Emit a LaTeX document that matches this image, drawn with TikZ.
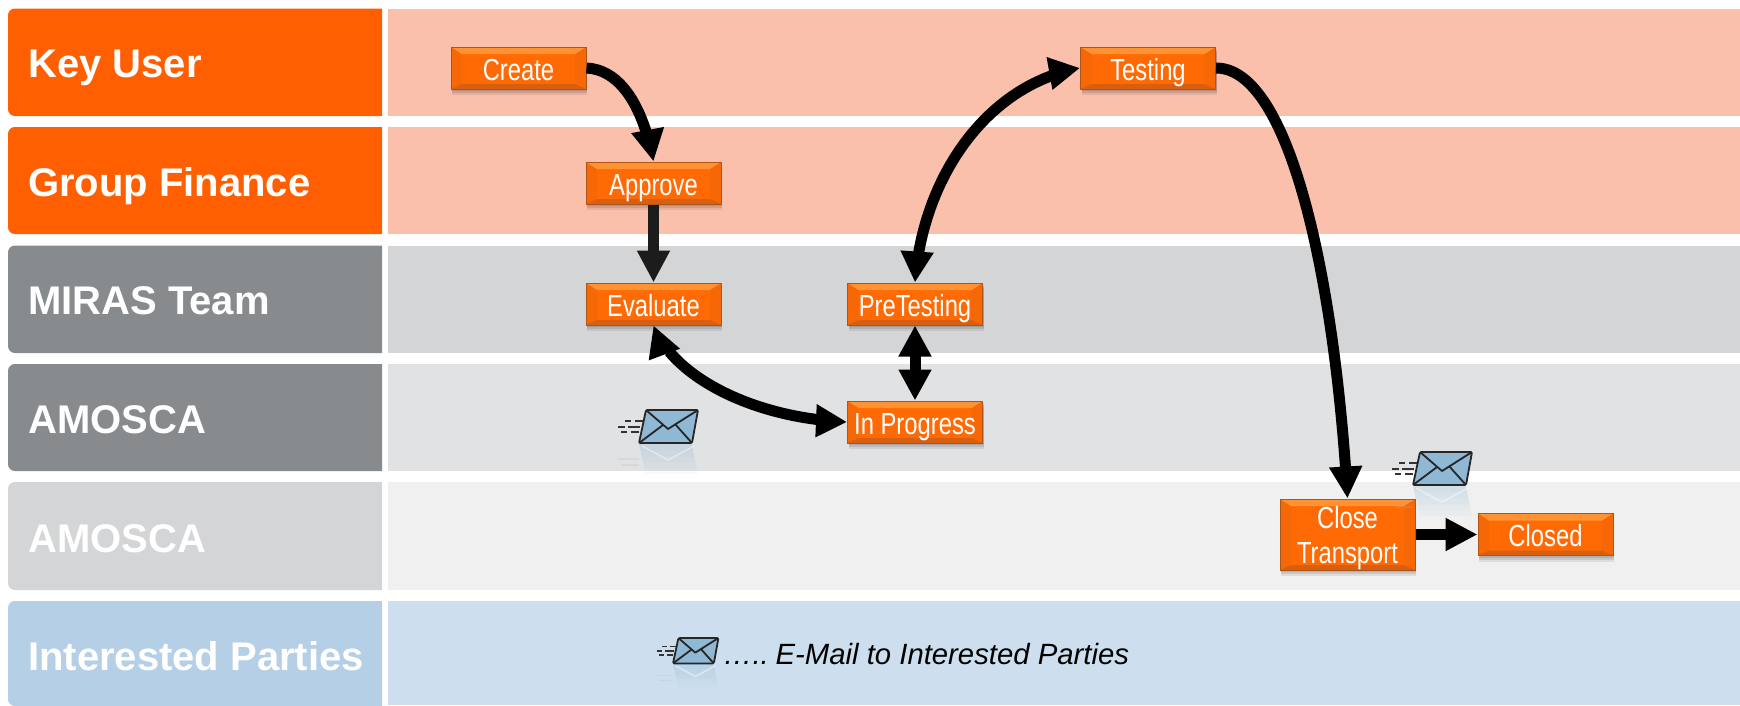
\documentclass[tikz,border=0pt]{standalone}
\usepackage{fontspec}
\setmainfont{Liberation Sans}
\newfontfamily\boxfont[FakeStretch=0.78]{Liberation Sans}
\usetikzlibrary{arrows.meta,bending,shadows,calc}
\definecolor{cOrange}{HTML}{FF5F00}
\definecolor{cSalmon}{HTML}{FAC0AC}
\definecolor{cGrey}{HTML}{888B8D}
\definecolor{cGreyA}{HTML}{D4D5D7}
\definecolor{cGreyB}{HTML}{E1E2E4}
\definecolor{cGreyC}{HTML}{F0F0F0}
\definecolor{cBlueA}{HTML}{B5CFE6}
\definecolor{cBlueB}{HTML}{CDDFEE}
\definecolor{cEnv}{HTML}{8FB8D4}
\definecolor{cBoxM}{HTML}{FF6A05}
\definecolor{cBoxT}{HTML}{FF9233}
\definecolor{cBoxB}{HTML}{D95F10}
\definecolor{cBoxL}{HTML}{F66806}
\definecolor{cBoxS}{HTML}{AE5518}
\newcommand{\rolebg}[3]{%
  \fill[#1] (382,#2) -- (15,#2) .. controls (11,#2) and (8,{#2+3}) .. (8,{#2+7})
    -- (8,{#3-7}) .. controls (8,{#3-3}) and (11,#3) .. (15,#3) -- (382,#3) -- cycle;}
\tikzset{
  x=1pt,y=-1pt,
  lane/.style={fill=#1,draw=none},
  rolelabel/.style={anchor=base west,text=white,font=\fontsize{40}{40}\selectfont\bfseries,inner sep=0pt},
  stepbase/.style={rectangle,minimum width=135pt,minimum height=42pt,inner sep=0pt,align=center,
    text=white,font=\boxfont\fontsize{30.5}{35}\selectfont,fill=cBoxM,draw=cBoxS,line width=1pt,
    general shadow={fill=black,opacity=.10,shadow xshift=1pt,shadow yshift=-2pt},
    general shadow={fill=black,opacity=.10,shadow xshift=1pt,shadow yshift=-4pt},
    general shadow={fill=black,opacity=.08,shadow xshift=1pt,shadow yshift=-6pt},
    path picture={
      \coordinate (nw) at (path picture bounding box.north west);
      \coordinate (ne) at (path picture bounding box.north east);
      \coordinate (sw) at (path picture bounding box.south west);
      \coordinate (se) at (path picture bounding box.south east);
      \fill[cBoxL] (nw) -- ($(nw)+(11pt,-7pt)$) -- ($(sw)+(11pt,5pt)$) -- (sw) -- cycle;
      \fill[cBoxL] (ne) -- ($(ne)+(-11pt,-7pt)$) -- ($(se)+(-11pt,5pt)$) -- (se) -- cycle;
      \fill[cBoxT] (nw) -- (ne) -- ($(ne)+(-11pt,-7pt)$) -- ($(nw)+(11pt,-7pt)$) -- cycle;
      \fill[cBoxB] (sw) -- (se) -- ($(se)+(-11pt,5pt)$) -- ($(sw)+(11pt,5pt)$) -- cycle;
    }},
  stepbox/.style={stepbase,text height=24pt,text depth=0pt},
  flow/.style={line width=11pt,-{Triangle[length=32pt,width=31pt,flex=0]},#1},
  flow/.default=black,
  bothflow/.style={line width=11pt,{Triangle[length=31pt,width=31pt,flex=0]}-{Triangle[length=31pt,width=31pt,flex=0]},black},
  envline/.style={line width=1.8pt,draw=black!85,line join=round},
  pics/envelope/.style={code={
    \foreach \t/\o in {0/.30,6/.24,12/.18,18/.12,24/.07}{
      \fill[cEnv,opacity=\o] ({\t*7/32},34+\t) -- ({53+\t*6/32},34+\t) -- ({53+(\t+6)*6/32},40+\t) -- ({(\t+6)*7/32},40+\t) -- cycle;
    }
    \draw[white,opacity=.45,line width=1.4pt] (3,36) -- (29,50) -- (55,36);
    \draw[black!30,opacity=.2,line width=1.4pt] (-21,49) -- (0,49) (-18,55) -- (0,55);
    \draw[line width=1.5pt,black!80]
      (-14,11) -- (-8,11) (-4,11) -- (4,11)
      (-21,17) -- (-14,17) (-11,17) -- (1,17)
      (-18,22) -- (-12,22) (-8,22) -- (0,22);
    \filldraw[fill=cEnv,envline,rounded corners=1.5pt] (7,0) -- (59,0) -- (53,33) -- (0,33) -- cycle;
    \draw[envline] (7,0) -- (29,19) -- (59,0);
    \draw[envline] (0,33) -- (24,15);
    \draw[envline] (53,33) -- (36,14);
  }}
}
\begin{document}
\begin{tikzpicture}
\useasboundingbox (0,0) rectangle (1740,705);
% lanes
\fill[lane=cSalmon] (387.5,9) rectangle (1740,116);
\fill[lane=cSalmon] (387.5,127) rectangle (1740,234);
\fill[lane=cGreyA] (387.5,245.5) rectangle (1740,353);
\fill[lane=cGreyB] (387.5,364) rectangle (1740,471);
\fill[lane=cGreyC] (387.5,482) rectangle (1740,590);
\fill[lane=cBlueB] (387.5,601) rectangle (1740,705);
% role column
\rolebg{cOrange}{8.5}{116}
\rolebg{cOrange}{127}{234}
\rolebg{cGrey}{245.5}{353}
\rolebg{cGrey}{364}{471}
\rolebg{cGreyA}{482}{590}
\rolebg{cBlueA}{601}{706}
\node[rolelabel] (lKey) at (28,77) {Key User};
\node[rolelabel] (lGroup) at (28,196) {Group Finance};
\node[rolelabel] (lMiras) at (28,314) {MIRAS Team};
\node[rolelabel] (lAmoA) at (28,433) {AMOSCA};
\node[rolelabel] (lAmoB) at (28,552) {AMOSCA};
\node[rolelabel] (lInt) at (28,670) {Interested Parties};
% steps
\node[stepbox] (create) at (518.5,68) {Create};
\node[stepbox] (approve) at (653.5,183) {Approve};
\node[stepbox] (evaluate) at (653.5,304) {Evaluate};
\node[stepbox] (pretest) at (915,304) {PreTesting};
\node[stepbox] (progress) at (915,422) {In Progress};
\node[stepbox] (testing) at (1148,68) {Testing};
\node[stepbase,minimum height=71pt,text height=57pt,text depth=0pt] (close) at (1347.5,534.5) {Close\\Transport};
\node[stepbox] (closed) at (1545.5,534.5) {Closed};
% connectors
\draw[flow] (create.east) .. controls (625,70) and (645,116) .. (approve.north);
\draw[flow=black!89] (approve.south) -- (evaluate.north);
\draw[bothflow] (evaluate.south) .. controls (672,375) and (750,418) .. (progress.west);
\draw[bothflow] (pretest.south) -- (progress.north);
\draw[bothflow] (pretest.north) .. controls (922,180) and (985,85) .. (testing.west);
\draw[flow] (testing.east) .. controls (1290,68) and (1335,280) .. (close.north);
\draw[flow] (close.east) -- (closed.west);
% envelopes
\pic at (639,410) {envelope};
\pic at (1413,452) {envelope};
\pic[scale=.77] at (673,638) {envelope};
\node[anchor=base west,inner sep=0pt,font=\fontsize{29.3}{29}\selectfont\itshape] (note) at (723,664) {….. \kern-4pt E-Mail to Interested Parties};
\end{tikzpicture}
\end{document}
